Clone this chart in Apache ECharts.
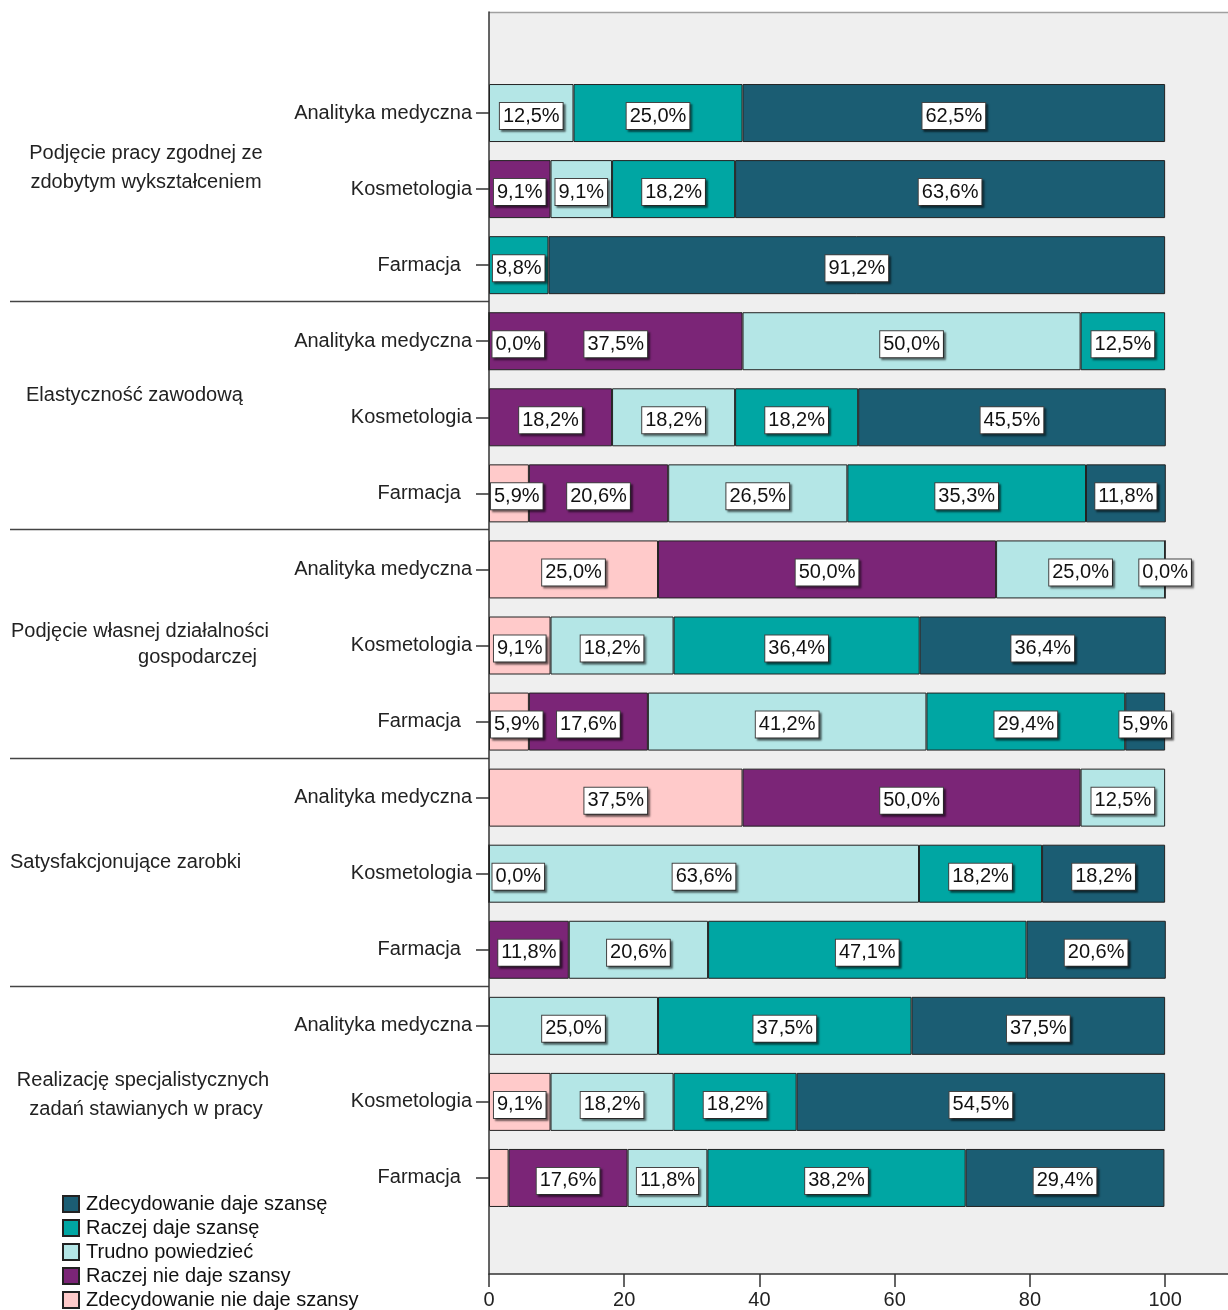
<!DOCTYPE html>
<html>
<head>
<meta charset="utf-8">
<script src="https://cdn.jsdelivr.net/npm/echarts@6/dist/echarts.min.js"></script>
<style>
  html, body { margin: 0; padding: 0; background: #fff; }
  #chart { width: 1228px; height: 1310px; }
</style>
</head>
<body>
<div id="chart"></div>
<script>
// rows: 5 questions x 3 fields of study
const fields = ['Analityka medyczna', 'Kosmetologia', 'Farmacja  ']
const rowLabels = [].concat(fields, fields, fields, fields, fields)

const groupLines = [
    ['Podjęcie pracy zgodnej ze', 'zdobytym wykształceniem'],
    ['Elastyczność zawodową'],
    ['Podjęcie własnej działalności', 'gospodarczej'],
    ['Satysfakcjonujące zarobki'],
    ['Realizację specjalistycznych', 'zadań stawianych w pracy']
]

const seriesNames = [
    'Zdecydowanie nie daje szansy',
    'Raczej nie daje szansy',
    'Trudno powiedzieć',
    'Raczej daje szansę',
    'Zdecydowanie daje szansę'
]
const colors = ['#ffcaca', '#7b2577', '#b4e6e6', '#00a6a3', '#1b5d73']

// percentages, left -> right in each bar (null = no segment)
const zdecydowanieNie  = [null, null, null,  0.0, null, 5.9,  25.0, 9.1, 5.9,   37.5, 0.0, null,  null, 9.1, 2.9]
const raczejNie        = [null, 9.1, null,   37.5, 18.2, 20.6, 50.0, null, 17.6, 50.0, null, 11.8, null, null, 17.6]
const trudno           = [12.5, 9.1, null,   50.0, 18.2, 26.5, 25.0, 18.2, 41.2, 12.5, 63.6, 20.6, 25.0, 18.2, 11.8]
const raczejDaje       = [25.0, 18.2, 8.8,   12.5, 18.2, 35.3, null, 36.4, 29.4, null, 18.2, 47.1, 37.5, 18.2, 38.2]
const zdecydowanieDaje = [62.5, 63.6, 91.2,  null, 45.5, 11.8, 0.0, 36.4, 5.9,   null, 18.2, 20.6, 37.5, 54.5, 29.4]

const values = [zdecydowanieNie, raczejNie, trudno, raczejDaje, zdecydowanieDaje]

const FONT = '"Liberation Sans", Arial, sans-serif'
const X_MAX = 109.3
const GRID_LEFT = 489
const GRID_TOP = 75
const GRID_H = 1141

function fmt(v) {
    return v.toFixed(1).replace('.', ',') + '%'
}

function isFirstSegment(s, i) {
    for (let k = 0; k < s; k++) {
        if (values[k][i] !== null && values[k][i] > 0) return false
    }
    return true
}

function buildData(s) {
    return values[s].map(function (v, i) {
        if (v === null) return null
        let label = {}
        if (v > 0 && v < 3) label.show = false
        else if (v === 0 && isFirstSegment(s, i)) { label.position = 'right'; label.distance = 3 }
        else if (isFirstSegment(s, i) && v < 8) { label.position = 'insideLeft'; label.distance = 2 }
        return {value: v, label: label}
    })
}

let series = seriesNames.map(function (name, s) {
    return {
        name: name,
        type: 'bar',
        stack: 'total',
        xAxisIndex: 0,
        yAxisIndex: 0,
        barWidth: 58,
        data: buildData(s),
        itemStyle: {color: colors[s], borderColor: '#222', borderWidth: 1},
        label: {
            show: true,
            position: 'inside',
            offset: [0, 3],
            formatter: function (p) { return fmt(p.value) },
            fontFamily: FONT,
            fontSize: 20,
            color: '#111',
            backgroundColor: '#fff',
            borderColor: '#444',
            borderWidth: 1,
            padding: [4, 3, 2, 3],
            shadowColor: 'rgba(0,0,0,0.45)',
            shadowOffsetX: 2,
            shadowOffsetY: 2,
            shadowBlur: 2
        },
        emphasis: {disabled: true},
        animation: false
    }
})

// group captions and separators
let graphic = []
const band = GRID_H / rowLabels.length
for (let g = 1; g < groupLines.length; g++) {
    let y = Math.round(GRID_TOP + g * 3 * band) - 1.5
    graphic.push({
        type: 'line',
        shape: {x1: 10, y1: y, x2: GRID_LEFT, y2: y},
        style: {stroke: '#444', lineWidth: 1.5}
    })
}
graphic.push({
    type: 'line',
    shape: {x1: GRID_LEFT, y1: 12.5, x2: 1228, y2: 12.5},
    style: {stroke: '#a0a0a0', lineWidth: 1.5}
})

const captionPos = [
    [[146, 153, 'center'], [146, 182, 'center']],
    [[26, 395, 'left']],
    [[11, 631, 'left'], [257, 657, 'right']],
    [[10, 862, 'left']],
    [[143, 1080, 'center'], [146, 1109, 'center']]
]
groupLines.forEach(function (lines, g) {
    lines.forEach(function (txt, j) {
        let p = captionPos[g][j]
        graphic.push({
            type: 'text',
            x: p[0],
            y: p[1],
            style: {
                text: txt,
                fontFamily: FONT,
                fontSize: 20,
                fill: '#222',
                align: p[2],
                verticalAlign: 'middle'
            }
        })
    })
})

let chart = echarts.init(document.getElementById('chart'))
chart.setOption({
    backgroundColor: '#fff',
    animation: false,
    textStyle: {fontFamily: FONT},
    grid: [
        {left: GRID_LEFT, right: 0, top: GRID_TOP, height: GRID_H, containLabel: false},
        {left: GRID_LEFT, right: 0, top: 12, bottom: 34, show: true, backgroundColor: '#efefef', borderWidth: 0, z: -1}
    ],
    xAxis: [
        {gridIndex: 0, type: 'value', min: 0, max: X_MAX, show: false},
        {
            gridIndex: 1, type: 'value', min: 0, max: X_MAX, interval: 20,
            axisLine: {show: true, lineStyle: {color: '#333', width: 1.5}},
            axisTick: {show: true, inside: false, length: 13, lineStyle: {color: '#333', width: 1.5}},
            axisLabel: {show: true, margin: 16, fontSize: 20, color: '#222', fontFamily: FONT, showMaxLabel: false},
            splitLine: {show: false}
        }
    ],
    yAxis: [
        {
            gridIndex: 0, type: 'category', inverse: true, data: rowLabels,
            axisLine: {show: false},
            axisTick: {show: true, alignWithLabel: true, length: 13, lineStyle: {color: '#333', width: 1.5}},
            axisLabel: {fontSize: 20, color: '#222', fontFamily: FONT, margin: 17},
            splitLine: {show: false}
        },
        {
            gridIndex: 1, type: 'value', min: 0, max: 1,
            axisLine: {show: true, lineStyle: {color: '#333', width: 1.5}},
            axisTick: {show: false},
            axisLabel: {show: false},
            splitLine: {show: false}
        }
    ],
    legend: {
        orient: 'vertical',
        left: 62,
        top: 1194,
        padding: 0,
        itemGap: 4,
        itemWidth: 16,
        itemHeight: 16,
        icon: 'rect',
        data: seriesNames.slice().reverse(),
        textStyle: {fontSize: 20, color: '#111', fontFamily: FONT, padding: [0, 0, 0, 2]},
        selectedMode: false
    },
    graphic: graphic,
    series: series
})
</script>
</body>
</html>
